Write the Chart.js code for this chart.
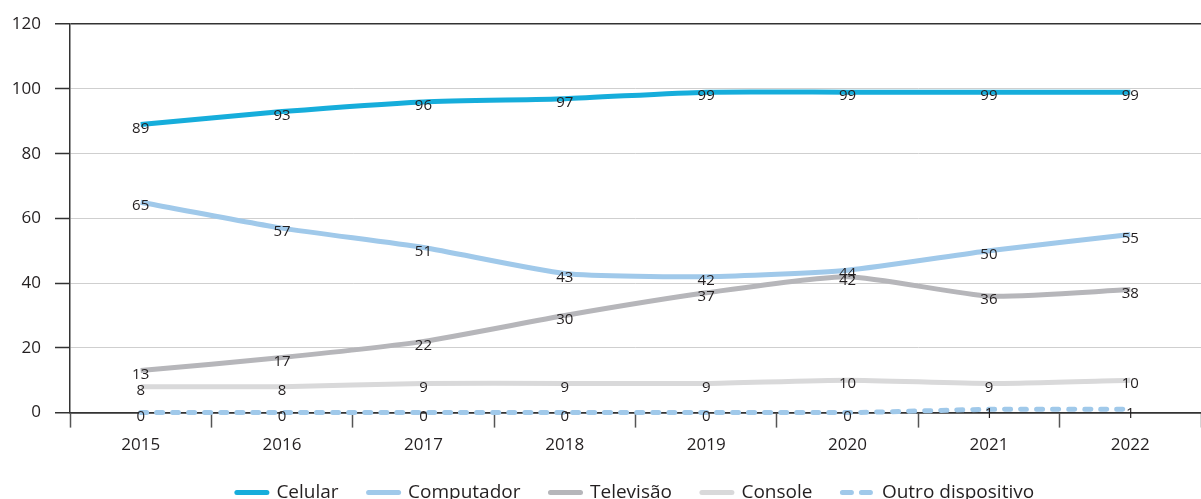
<!DOCTYPE html>
<html>
<head>
<meta charset="utf-8">
<script src="https://cdn.jsdelivr.net/npm/chart.js@4"></script>
<style>
  html, body { margin: 0; padding: 0; background: #fff; overflow: hidden; }
  #wrap { width: 1201px; height: 514px; position: relative; }
</style>
</head>
<body>
<div id="wrap"><canvas id="c"></canvas></div>
<script>
const categories = ['2015', '2016', '2017', '2018', '2019', '2020', '2021', '2022'];
const celular    = [89, 93, 96, 97, 99, 99, 99, 99];
const computador = [65, 57, 51, 43, 42, 44, 50, 55];
const televisao  = [13, 17, 22, 30, 37, 42, 36, 38];
const consoleV   = [8, 8, 9, 9, 9, 10, 9, 10];
const outro      = [0, 0, 0, 0, 0, 0, 1, 1];
const yTicks     = [0, 20, 40, 60, 80, 100, 120];

const FONT = '"Open Sans", "Noto Sans", sans-serif';
const TXT = '#231f20';

function ds(label, data, color, order, dash) {
  return {
    label, data, borderColor: color, backgroundColor: color,
    borderWidth: 5, pointRadius: 0, pointHoverRadius: 0, pointStyle: 'line',
    tension: 0.2, fill: false, order, clip: false,
    borderCapStyle: dash ? 'round' : 'butt',
    borderDash: dash || []
  };
}

const labelPlugin = {
  id: 'valueLabels',
  afterDatasetsDraw(chart) {
    const ctx = chart.ctx;
    ctx.save();
    ctx.font = '15px ' + FONT;
    ctx.fillStyle = TXT;
    ctx.textAlign = 'center';
    ctx.textBaseline = 'middle';
    chart.data.datasets.forEach((d, i) => {
      const meta = chart.getDatasetMeta(i);
      meta.data.forEach((pt, j) => {
        ctx.fillText(String(d.data[j]), pt.x, pt.y + 4);
      });
    });
    ctx.restore();
  }
};

new Chart(document.getElementById('c'), {
  type: 'line',
  data: {
    labels: categories,
    datasets: [
      ds('Celular', celular, '#16addb', 0),
      ds('Computador', computador, '#a0c9ea', 2),
      ds('Televisão', televisao, '#b6b6ba', 1),
      ds('Console', consoleV, '#d9d9da', 3),
      ds('Outro dispositivo', outro, '#a0c9ea', 4, [6, 10])
    ]
  },
  options: {
    responsive: true,
    maintainAspectRatio: false,
    animation: false,
    layout: { padding: { top: 13, right: 0, left: 0, bottom: 2 } },
    plugins: {
      tooltip: { enabled: false },
      legend: {
        position: 'bottom',
        fullSize: false,
        labels: {
          usePointStyle: true,
          pointStyleWidth: 30,
          boxHeight: 19,
          padding: 30,
          color: TXT,
          font: { family: FONT, size: 19 },
          sort: (a, b) => a.datasetIndex - b.datasetIndex,
          generateLabels(chart) {
            const items = Chart.defaults.plugins.legend.labels.generateLabels(chart);
            items.forEach(it => {
              it.lineCap = 'round';
              it.lineWidth = 5;
              it.pointStyle = 'line';
              const d = chart.data.datasets[it.datasetIndex];
              it.lineDash = d.borderDash && d.borderDash.length ? [9, 10] : [];
            });
            return items;
          }
        }
      }
    },
    scales: {
      x: {
        offset: true,
        afterFit(scale) { scale.height = scale.height - 9; },
        border: { display: true, color: '#333', width: 1.5 },
        grid: {
          offset: true, drawOnChartArea: false, drawTicks: true,
          tickLength: 15, tickColor: '#555', tickWidth: 1.5
        },
        ticks: { color: TXT, font: { family: FONT, size: 17 }, padding: 7, maxRotation: 0 }
      },
      y: {
        min: 0, max: 120,
        afterFit(scale) { scale.width = 70; },
        afterBuildTicks(scale) { scale.ticks = yTicks.map(v => ({ value: v })); },
        border: { display: true, color: '#333', width: 1.5 },
        grid: {
          color: c => (c.tick && (c.tick.value === 120 || c.tick.value === 0)) ? '#333' : '#cfcfcf',
          lineWidth: c => (c.tick && (c.tick.value === 120 || c.tick.value === 0)) ? 1.5 : 1,
          tickLength: 15, tickColor: '#333', tickWidth: 1.5
        },
        ticks: { color: TXT, font: { family: FONT, size: 17 }, padding: 14 }
      }
    }
  },
  plugins: [labelPlugin]
});
</script>
</body>
</html>
